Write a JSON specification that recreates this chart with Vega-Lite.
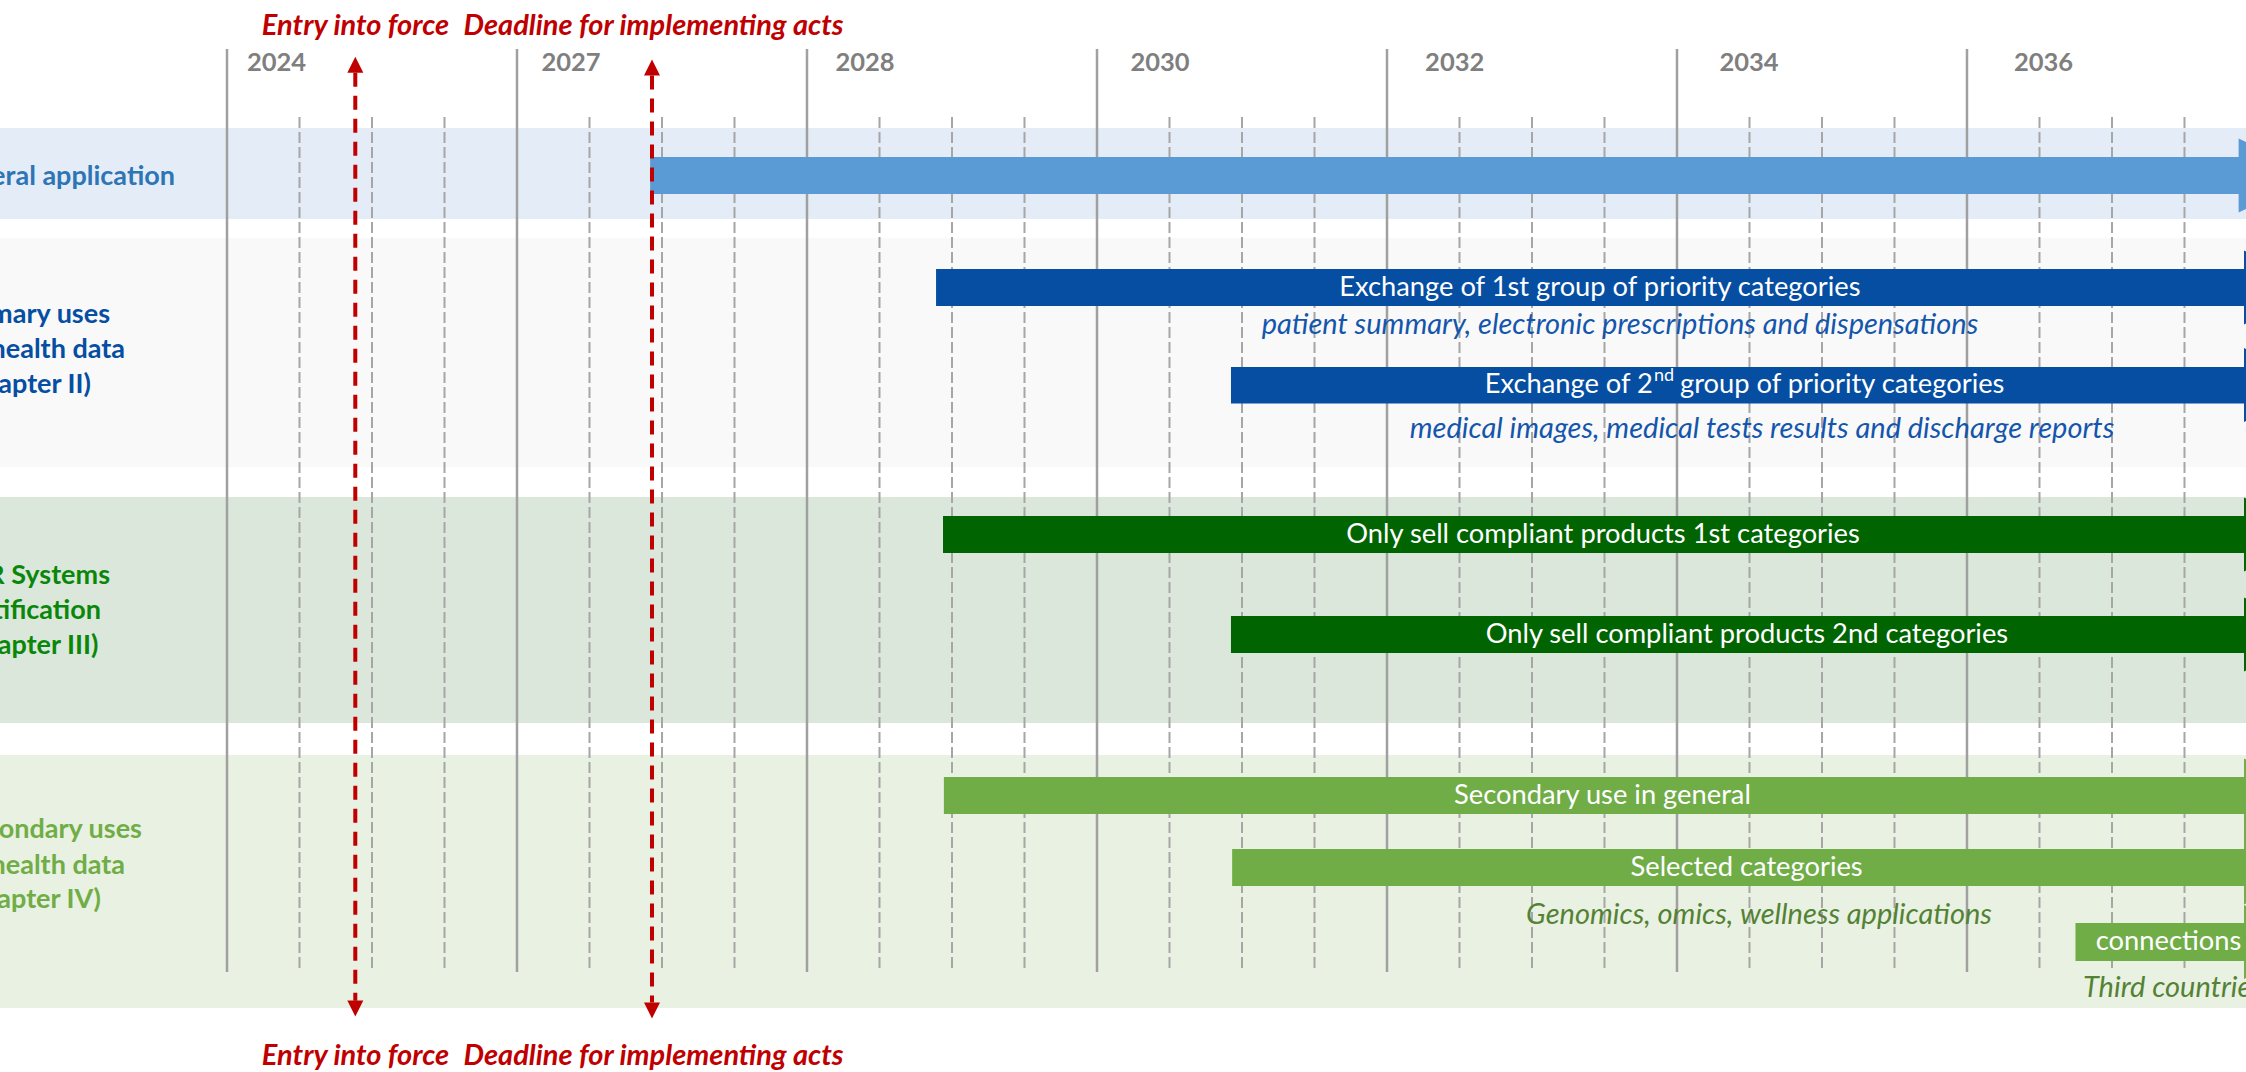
{
  "$schema": "https://vega.github.io/schema/vega-lite/v6.json",
  "width": 2246,
  "height": 1072,
  "autosize": {"type": "fit", "contains": "padding"},
  "padding": 0,
  "background": "white",
  "config": {"view": {"stroke": null}, "text": {"font": "Lato"}},
  "datasets": {
    "lanes": [
      {"lane": "General application", "from": -1, "to": 8, "top": 12.8, "bottom": 21.9},
      {"lane": "Primary uses", "from": -1, "to": 8, "top": 23.8, "bottom": 46.7},
      {"lane": "EHR Systems", "from": -1, "to": 8, "top": 49.7, "bottom": 72.3},
      {"lane": "Secondary uses", "from": -1, "to": 8, "top": 75.5, "bottom": 100.8}
    ],
    "years": [
      {"year": "2024", "start": 0, "label_at": 0.1707},
      {"year": "2027", "start": 1, "label_at": 1.1862},
      {"year": "2028", "start": 2, "label_at": 2.2},
      {"year": "2030", "start": 3, "label_at": 3.2172},
      {"year": "2032", "start": 4, "label_at": 4.2334},
      {"year": "2034", "start": 5, "label_at": 5.2483},
      {"year": "2036", "start": 6, "label_at": 6.2638}
    ],
    "quarters": [
      {"at": 0.25}, {"at": 0.5}, {"at": 0.75},
      {"at": 1.25}, {"at": 1.5}, {"at": 1.75},
      {"at": 2.25}, {"at": 2.5}, {"at": 2.75},
      {"at": 3.25}, {"at": 3.5}, {"at": 3.75},
      {"at": 4.25}, {"at": 4.5}, {"at": 4.75},
      {"at": 5.25}, {"at": 5.5}, {"at": 5.75},
      {"at": 6.25}, {"at": 6.5}, {"at": 6.75}
    ],
    "tasks": [
      {"lane": "General application", "task": "General application", "start": 1.459, "end": 7.3, "top": 15.7, "bottom": 19.4, "mid": 17.55, "head": 7.0645},
      {"lane": "Primary uses", "task": "Exchange of 1st group of priority categories", "start": 2.445, "end": 7.3, "top": 26.9, "bottom": 30.6, "mid": 28.75, "head": 7.0831},
      {"lane": "Primary uses", "task": "Exchange of 2nd group of priority categories", "start": 3.462, "end": 7.3, "top": 36.7, "bottom": 40.35, "mid": 38.5, "head": 7.0831},
      {"lane": "EHR Systems", "task": "Only sell compliant products 1st categories", "start": 2.469, "end": 7.3, "top": 51.6, "bottom": 55.3, "mid": 53.45, "head": 7.0831},
      {"lane": "EHR Systems", "task": "Only sell compliant products 2nd categories", "start": 3.462, "end": 7.3, "top": 61.6, "bottom": 65.3, "mid": 63.45, "head": 7.0831},
      {"lane": "Secondary uses", "task": "Secondary use in general", "start": 2.472, "end": 7.3, "top": 77.7, "bottom": 81.4, "mid": 79.55, "head": 7.0831},
      {"lane": "Secondary uses", "task": "Selected categories", "start": 3.466, "end": 7.3, "top": 84.9, "bottom": 88.6, "mid": 86.75, "head": 7.0831},
      {"lane": "Secondary uses", "task": "Third countries connections", "start": 6.374, "end": 7.3, "top": 92.3, "bottom": 96.1, "mid": 94.2, "head": 7.0831}
    ],
    "bar_labels": [
      {"text": "Exchange of 1st group of priority categories", "at": 4.734, "y": 28.75},
      {"text": "Only sell compliant products 1st categories", "at": 4.745, "y": 53.45},
      {"text": "Only sell compliant products 2nd categories", "at": 5.241, "y": 63.45},
      {"text": "Secondary use in general", "at": 4.743, "y": 79.55},
      {"text": "Selected categories", "at": 5.24, "y": 86.75},
      {"text": "connections", "at": 6.695, "y": 94.2}
    ],
    "ordinal_label": [
      {"part": "head", "text": "Exchange of 2", "at": 4.917, "y": 38.5},
      {"part": "suffix", "text": "nd", "at": 4.917, "y": 38.5},
      {"part": "tail", "text": "group of priority categories", "at": 5.0103, "y": 38.5}
    ],
    "notes": [
      {"lane": "Primary uses", "note": "patient summary, electronic prescriptions and dispensations", "at": 4.8034, "y": 32.5},
      {"lane": "Primary uses", "note": "medical images, medical tests results and discharge reports", "at": 5.2931, "y": 42.9},
      {"lane": "Secondary uses", "note": "Genomics, omics, wellness applications", "at": 5.2828, "y": 91.5},
      {"lane": "Secondary uses", "note": "Third countries", "at": 6.4, "y": 98.8}
    ],
    "lane_labels": [
      {"lane": "General application", "text": "General application", "at": -0.1793, "y": 17.65},
      {"lane": "Primary uses", "text": "Primary uses", "at": -0.4034, "y": 31.5},
      {"lane": "Primary uses", "text": "of health data", "at": -0.3517, "y": 35.0},
      {"lane": "Primary uses", "text": "(Chapter II)", "at": -0.469, "y": 38.5},
      {"lane": "EHR Systems", "text": "EHR Systems", "at": -0.4034, "y": 57.6},
      {"lane": "EHR Systems", "text": "certification", "at": -0.4345, "y": 61.1},
      {"lane": "EHR Systems", "text": "(Chapter III)", "at": -0.4431, "y": 64.6},
      {"lane": "Secondary uses", "text": "Secondary uses", "at": -0.2931, "y": 83.0},
      {"lane": "Secondary uses", "text": "of health data", "at": -0.3517, "y": 86.6},
      {"lane": "Secondary uses", "text": "(Chapter IV)", "at": -0.4345, "y": 90.0}
    ],
    "milestones": [
      {"milestone": "Entry into force", "at": 0.4424, "head_up": 6.47, "head_down": 100.84, "line_top": 7.27, "line_bottom": 100.07, "label_at": 0.4431},
      {"milestone": "Deadline for implementing acts", "at": 1.4655, "head_up": 6.76, "head_down": 101.05, "line_top": 7.56, "line_bottom": 100.25, "label_at": 1.4707}
    ]
  },
  "resolve": {"scale": {"color": "independent"}},
  "layer": [
    {
      "data": {"name": "lanes"},
      "mark": {"type": "rect", "clip": true},
      "encoding": {
        "x": {"field": "from", "type": "quantitative", "scale": {"domain": [-0.78276, 6.96207], "nice": false, "zero": false}, "axis": null},
        "x2": {"field": "to"},
        "y": {"field": "top", "type": "quantitative", "scale": {"domain": [0, 107.2], "reverse": true, "nice": false, "zero": false}, "axis": null},
        "y2": {"field": "bottom"},
        "color": {"field": "lane", "type": "nominal", "legend": null, "scale": {"domain": ["General application", "Primary uses", "EHR Systems", "Secondary uses"], "range": ["#E4EDF7", "#F9F9F9", "#DAE7DA", "#E9F1E2"]}}
      }
    },
    {
      "data": {"name": "years"},
      "mark": {"type": "rule", "color": "#A0A0A0", "strokeWidth": 2.5, "clip": true},
      "encoding": {
        "x": {"field": "start", "type": "quantitative", "axis": null},
        "y": {"datum": 4.9, "type": "quantitative", "axis": null},
        "y2": {"datum": 97.2}
      }
    },
    {
      "data": {"name": "quarters"},
      "mark": {"type": "rule", "color": "#A6A6A6", "strokeWidth": 2, "strokeDash": [11, 4], "clip": true},
      "encoding": {
        "x": {"field": "at", "type": "quantitative", "axis": null},
        "y": {"datum": 11.7, "type": "quantitative", "axis": null},
        "y2": {"datum": 96.8}
      }
    },
    {
      "data": {"name": "tasks"},
      "mark": {"type": "rect", "clip": true},
      "encoding": {
        "x": {"field": "start", "type": "quantitative", "axis": null},
        "x2": {"field": "end"},
        "y": {"field": "top", "type": "quantitative", "axis": null},
        "y2": {"field": "bottom"},
        "color": {"field": "lane", "type": "nominal", "legend": null, "scale": {"domain": ["General application", "Primary uses", "EHR Systems", "Secondary uses"], "range": ["#5B9BD5", "#054EA2", "#006400", "#70AD47"]}}
      }
    },
    {
      "data": {"name": "tasks"},
      "mark": {"type": "point", "shape": "M-1,-1L1,0L-1,1Z", "filled": true, "opacity": 1, "size": 5500, "clip": true},
      "encoding": {
        "x": {"field": "head", "type": "quantitative", "axis": null},
        "y": {"field": "mid", "type": "quantitative", "axis": null},
        "color": {"field": "lane", "type": "nominal", "legend": null, "scale": {"domain": ["General application", "Primary uses", "EHR Systems", "Secondary uses"], "range": ["#5B9BD5", "#054EA2", "#006400", "#70AD47"]}}
      }
    },
    {
      "data": {"name": "years"},
      "mark": {"type": "text", "font": "Lato", "fontWeight": "bold", "fontSize": 25.5, "color": "#7F7F7F", "align": "center", "baseline": "middle", "clip": true},
      "encoding": {
        "x": {"field": "label_at", "type": "quantitative", "axis": null},
        "y": {"datum": 6.25, "type": "quantitative", "axis": null},
        "text": {"field": "year"}
      }
    },
    {
      "data": {"name": "bar_labels"},
      "mark": {"type": "text", "font": "Lato", "fontSize": 27.3, "color": "white", "align": "center", "baseline": "middle", "clip": true},
      "encoding": {
        "x": {"field": "at", "type": "quantitative", "axis": null},
        "y": {"field": "y", "type": "quantitative", "axis": null},
        "text": {"field": "text"}
      }
    },
    {
      "data": {"name": "ordinal_label"},
      "transform": [{"filter": "datum.part === 'head'"}],
      "mark": {"type": "text", "font": "Lato", "fontSize": 27.3, "color": "white", "align": "right", "baseline": "middle", "clip": true},
      "encoding": {
        "x": {"field": "at", "type": "quantitative", "axis": null},
        "y": {"field": "y", "type": "quantitative", "axis": null},
        "text": {"field": "text"}
      }
    },
    {
      "data": {"name": "ordinal_label"},
      "transform": [{"filter": "datum.part === 'suffix'"}],
      "mark": {"type": "text", "font": "Lato", "fontSize": 18, "color": "white", "align": "left", "baseline": "middle", "dx": 1, "dy": -9, "clip": true},
      "encoding": {
        "x": {"field": "at", "type": "quantitative", "axis": null},
        "y": {"field": "y", "type": "quantitative", "axis": null},
        "text": {"field": "text"}
      }
    },
    {
      "data": {"name": "ordinal_label"},
      "transform": [{"filter": "datum.part === 'tail'"}],
      "mark": {"type": "text", "font": "Lato", "fontSize": 27.3, "color": "white", "align": "left", "baseline": "middle", "clip": true},
      "encoding": {
        "x": {"field": "at", "type": "quantitative", "axis": null},
        "y": {"field": "y", "type": "quantitative", "axis": null},
        "text": {"field": "text"}
      }
    },
    {
      "data": {"name": "notes"},
      "transform": [{"filter": "datum.note !== 'Third countries'"}],
      "mark": {"type": "text", "font": "Lato", "fontStyle": "italic", "fontSize": 29, "align": "center", "baseline": "middle", "clip": true},
      "encoding": {
        "x": {"field": "at", "type": "quantitative", "axis": null},
        "y": {"field": "y", "type": "quantitative", "axis": null},
        "text": {"field": "note"},
        "color": {"field": "lane", "type": "nominal", "legend": null, "scale": {"domain": ["Primary uses", "Secondary uses"], "range": ["#1456AC", "#548235"]}}
      }
    },
    {
      "data": {"name": "notes"},
      "transform": [{"filter": "datum.note === 'Third countries'"}],
      "mark": {"type": "text", "font": "Lato", "fontStyle": "italic", "fontSize": 29, "align": "left", "baseline": "middle", "color": "#548235", "clip": true},
      "encoding": {
        "x": {"field": "at", "type": "quantitative", "axis": null},
        "y": {"field": "y", "type": "quantitative", "axis": null},
        "text": {"field": "note"}
      }
    },
    {
      "data": {"name": "lane_labels"},
      "mark": {"type": "text", "font": "Lato", "fontWeight": "bold", "fontSize": 27, "align": "right", "baseline": "middle", "clip": true},
      "encoding": {
        "x": {"field": "at", "type": "quantitative", "axis": null},
        "y": {"field": "y", "type": "quantitative", "axis": null},
        "text": {"field": "text"},
        "color": {"field": "lane", "type": "nominal", "legend": null, "scale": {"domain": ["General application", "Primary uses", "EHR Systems", "Secondary uses"], "range": ["#2E75B6", "#054EA2", "#0A870A", "#70AD47"]}}
      }
    },
    {
      "data": {"name": "milestones"},
      "mark": {"type": "rule", "color": "#C00000", "strokeWidth": 4, "strokeDash": [14, 9], "clip": true},
      "encoding": {
        "x": {"field": "at", "type": "quantitative", "axis": null},
        "y": {"field": "line_top", "type": "quantitative", "axis": null},
        "y2": {"field": "line_bottom"}
      }
    },
    {
      "data": {"name": "milestones"},
      "mark": {"type": "point", "shape": "M0,-1L-1,1L1,1Z", "filled": true, "opacity": 1, "size": 256, "color": "#C00000", "clip": true},
      "encoding": {
        "x": {"field": "at", "type": "quantitative", "axis": null},
        "y": {"field": "head_up", "type": "quantitative", "axis": null}
      }
    },
    {
      "data": {"name": "milestones"},
      "mark": {"type": "point", "shape": "M0,1L-1,-1L1,-1Z", "filled": true, "opacity": 1, "size": 256, "color": "#C00000", "clip": true},
      "encoding": {
        "x": {"field": "at", "type": "quantitative", "axis": null},
        "y": {"field": "head_down", "type": "quantitative", "axis": null}
      }
    },
    {
      "data": {"name": "milestones"},
      "mark": {"type": "text", "font": "Lato", "fontWeight": "bold", "fontStyle": "italic", "fontSize": 29, "color": "#C00000", "align": "center", "baseline": "middle", "clip": true},
      "encoding": {
        "x": {"field": "label_at", "type": "quantitative", "axis": null},
        "y": {"datum": 2.6, "type": "quantitative", "axis": null},
        "text": {"field": "milestone"}
      }
    },
    {
      "data": {"name": "milestones"},
      "mark": {"type": "text", "font": "Lato", "fontWeight": "bold", "fontStyle": "italic", "fontSize": 29, "color": "#C00000", "align": "center", "baseline": "middle", "clip": true},
      "encoding": {
        "x": {"field": "label_at", "type": "quantitative", "axis": null},
        "y": {"datum": 105.6, "type": "quantitative", "axis": null},
        "text": {"field": "milestone"}
      }
    }
  ]
}
